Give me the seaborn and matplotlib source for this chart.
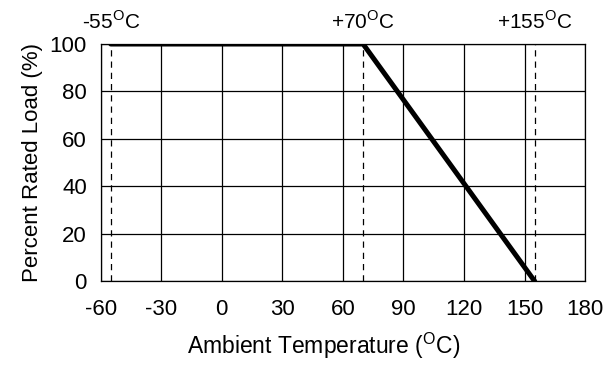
import numpy as np
import pandas as pd
import matplotlib
matplotlib.use("Agg")
import matplotlib.pyplot as plt
import seaborn as sns

# Derating curve data
temps = [-55, 70, 155]
load_pct = [100, 100, 0]
marker_temps = [-55, 70, 155]
marker_labels = ["-55$^{\\mathrm{O}}$C", "+70$^{\\mathrm{O}}$C", "+155$^{\\mathrm{O}}$C"]
x_ticks = [-60, -30, 0, 30, 60, 90, 120, 150, 180]
y_ticks = [0, 20, 40, 60, 80, 100]

sns.set_style("white")
plt.rcParams['font.family'] = ['Liberation Sans', 'DejaVu Sans']
plt.rcParams['mathtext.fontset'] = 'custom'
plt.rcParams['mathtext.rm'] = 'Liberation Sans'
plt.rcParams['axes.unicode_minus'] = False
plt.rcParams['text.color'] = 'black'
plt.rcParams['axes.labelcolor'] = 'black'
plt.rcParams['xtick.color'] = 'black'
plt.rcParams['ytick.color'] = 'black'

fig = plt.figure(figsize=(6.14, 3.73), dpi=100)
ax = fig.add_axes([0.164, 0.246, 0.789, 0.636])

df = pd.DataFrame({"temp": temps, "load": load_pct})
sns.lineplot(data=df, x="temp", y="load", ax=ax, color="black", linewidth=3.6,
             solid_joinstyle="miter", zorder=5)

# dashed marker lines at the rated temperatures
for t in marker_temps:
    ax.axvline(t, color="black", linewidth=0.9, linestyle=(0, (5, 4)), zorder=3)

for t, lab in zip(marker_temps, marker_labels):
    ax.annotate(lab, xy=(t, 1.0), xycoords=("data", "axes fraction"),
                xytext=(0, 8), textcoords="offset points",
                ha="center", va="bottom", fontsize=15)

ax.set_xlim(-60, 180)
ax.set_ylim(0, 100)
ax.set_xticks(x_ticks)
ax.set_yticks(y_ticks)
ax.grid(True, color="black", linewidth=0.9)
for s in ax.spines.values():
    s.set_color("black")
    s.set_linewidth(0.9)
ax.tick_params(axis="both", length=0, labelsize=16)
ax.tick_params(axis="x", pad=13)
ax.tick_params(axis="y", pad=10)

ax.set_xlabel("Ambient Temperature ($^{\\mathrm{O}}$C)", fontsize=16.5)
ax.set_ylabel("Percent Rated Load (%)", fontsize=16)
ax.xaxis.set_label_coords(0.46, -0.21)
ax.yaxis.set_label_coords(-0.12, 0.5)

fig.savefig("out.png", dpi=100)
